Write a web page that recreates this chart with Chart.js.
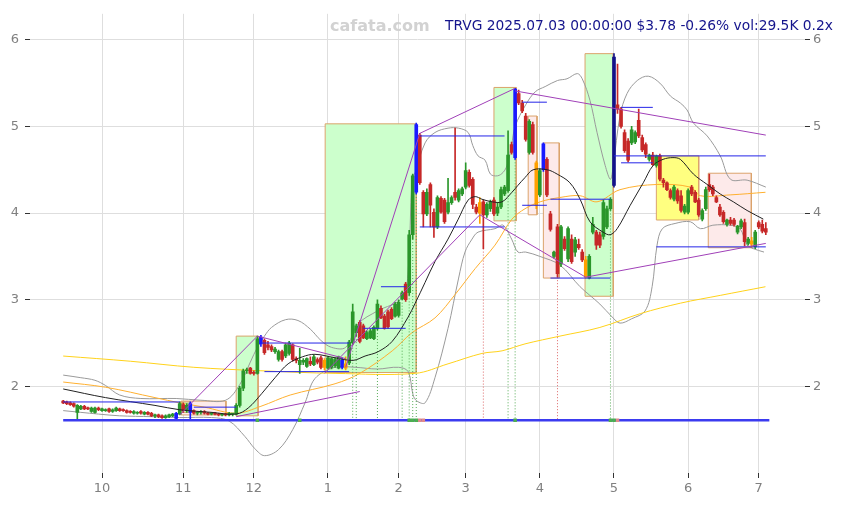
<!DOCTYPE html>
<html lang="en">
<head>
<meta charset="UTF-8">
<title>TRVG daily</title>
<style>
  body { margin: 0; background: #fff; }
  #wrap { position: relative; width: 843px; height: 505px; }
  #mark { position: absolute; left: 330px; top: 16px; font: bold 16px 'DejaVu Sans', sans-serif; color: #d2d2d2; }
  #title { position: absolute; left: 445px; top: 17px; font: 13.8px 'DejaVu Sans', sans-serif; color: #14148c; white-space: nowrap; }
</style>
</head>
<body>
<div id="wrap">
  <canvas id="chart" width="843" height="505"></canvas>
  <div id="mark">cafata.com</div>
  <div id="title">TRVG 2025.07.03 00:00:00 $3.78 -0.26% vol:29.5K 0.2x</div>
</div>
<script src="https://cdn.jsdelivr.net/npm/chart.js@4.4.1/dist/chart.umd.min.js"></script>
<script>
// trading-day index 0 = 2024-09-16, 199 = 2025-07-03
var monthIdx    = [11, 34, 54, 75, 95, 114, 135, 156, 177, 197];
var monthLabels = ['10', '11', '12', '1', '2', '3', '4', '5', '6', '7'];
var yTicks      = [2, 3, 4, 5, 6];

var openP = [
  1.83,1.82,1.81,1.80,1.70,1.74,1.77,1.75,1.71,1.70,
  1.75,1.72,1.72,1.74,1.71,1.72,1.74,1.73,1.72,1.71,
  1.69,1.69,1.71,1.68,1.70,1.69,1.66,1.67,1.66,1.64,
  1.65,1.66,1.63,1.68,1.79,1.72,1.70,1.72,1.69,1.70,
  1.71,1.69,1.68,1.69,1.68,1.67,1.68,1.67,1.68,1.68,
  1.78,1.98,2.18,2.21,2.16,2.15,2.49,2.53,2.48,2.46,
  2.40,2.31,2.40,2.35,2.38,2.48,2.32,2.25,2.28,2.23,
  2.29,2.25,2.31,2.33,2.22,2.21,2.22,2.24,2.21,2.22,
  2.21,2.27,2.50,2.62,2.74,2.70,2.55,2.56,2.55,2.67,
  2.90,2.81,2.86,2.89,2.81,2.82,3.01,3.18,3.08,3.75,
  4.24,4.90,4.24,3.99,4.33,4.01,3.84,4.17,4.15,4.01,
  4.12,4.24,4.15,4.22,4.30,4.47,4.39,4.07,4.00,4.13,
  3.98,4.05,4.15,4.00,4.07,4.22,4.26,4.79,4.64,5.38,
  5.27,5.12,4.70,5.02,4.09,4.21,4.50,4.62,3.99,3.50,
  3.84,3.41,3.70,3.47,3.70,3.55,3.64,3.55,3.46,3.25,
  3.78,3.78,3.75,3.73,3.84,4.05,4.32,5.25,5.20,4.93,
  4.83,4.81,4.82,5.07,4.87,4.79,4.62,4.67,4.55,4.66,
  4.38,4.35,4.26,4.16,4.26,4.20,4.01,4.01,4.30,4.24,
  4.15,3.93,4.05,4.33,4.30,4.18,4.07,4.01,3.87,3.92,
  3.92,3.78,3.84,3.89,3.65,3.68,3.61,3.89,3.87,3.82
];
var highP = [
  1.84,1.83,1.82,1.81,1.79,1.78,1.78,1.76,1.76,1.76,
  1.76,1.75,1.74,1.75,1.74,1.76,1.75,1.74,1.73,1.72,
  1.72,1.71,1.72,1.71,1.71,1.70,1.68,1.68,1.67,1.67,
  1.68,1.69,1.70,1.82,1.81,1.80,1.82,1.73,1.71,1.72,
  1.72,1.70,1.70,1.70,1.69,1.69,1.69,1.70,1.69,1.80,
  2.00,2.20,2.21,2.22,2.18,2.58,2.59,2.55,2.52,2.48,
  2.45,2.42,2.42,2.50,2.52,2.49,2.34,2.44,2.32,2.33,
  2.34,2.36,2.33,2.35,2.32,2.34,2.33,2.33,2.35,2.33,
  2.34,2.53,2.95,2.72,2.76,2.72,2.64,2.66,2.70,3.00,
  2.93,2.83,2.88,2.91,2.97,3.00,3.10,3.20,3.80,4.45,
  5.04,4.92,4.26,4.28,4.35,4.05,4.20,4.19,4.17,4.40,
  4.20,4.98,4.28,4.30,4.58,4.50,4.41,4.10,4.18,4.15,
  4.12,4.15,4.18,4.12,4.30,4.32,4.95,4.82,5.44,5.42,
  5.30,5.15,5.08,5.05,4.60,4.51,4.81,4.64,4.02,3.56,
  3.87,3.86,3.73,3.84,3.75,3.72,3.70,3.58,3.50,3.52,
  3.95,3.80,3.78,4.15,4.08,4.18,5.84,5.72,5.22,4.96,
  4.86,5.00,4.95,5.20,4.90,4.81,4.68,4.70,4.67,4.68,
  4.40,4.36,4.28,4.32,4.28,4.26,4.10,4.28,4.32,4.26,
  4.17,4.05,4.30,4.45,4.32,4.20,4.10,4.03,3.93,3.95,
  3.94,3.86,3.93,3.93,3.72,3.72,3.80,3.91,3.92,3.89
];
var lowP = [
  1.80,1.79,1.78,1.76,1.61,1.73,1.73,1.73,1.70,1.69,
  1.72,1.71,1.71,1.70,1.70,1.71,1.71,1.71,1.69,1.69,
  1.68,1.68,1.68,1.67,1.67,1.65,1.64,1.64,1.63,1.63,
  1.64,1.65,1.61,1.67,1.70,1.70,1.61,1.68,1.67,1.68,
  1.68,1.67,1.67,1.67,1.66,1.66,1.66,1.66,1.66,1.67,
  1.76,1.95,2.15,2.14,2.13,2.14,2.46,2.37,2.42,2.40,
  2.38,2.29,2.29,2.33,2.36,2.29,2.27,2.15,2.25,2.22,
  2.24,2.24,2.26,2.20,2.19,2.20,2.20,2.22,2.20,2.20,
  2.19,2.25,2.48,2.58,2.50,2.55,2.54,2.55,2.54,2.65,
  2.78,2.66,2.67,2.77,2.80,2.80,3.00,2.98,3.05,3.70,
  4.22,4.33,3.84,3.97,3.84,3.72,3.82,4.00,3.88,3.99,
  4.10,4.15,4.13,4.20,4.28,4.30,4.05,3.99,3.88,3.59,
  3.95,4.02,3.97,3.97,4.05,4.20,4.24,4.68,4.62,5.25,
  5.16,4.83,4.68,4.68,4.05,4.19,4.48,4.19,3.79,3.48,
  3.26,3.38,3.57,3.44,3.42,3.50,3.58,3.44,3.25,3.24,
  3.76,3.58,3.60,3.70,3.82,4.03,4.30,5.15,4.98,4.70,
  4.59,4.79,4.80,4.87,4.71,4.64,4.60,4.55,4.53,4.37,
  4.30,4.26,4.16,4.14,4.11,4.01,3.99,3.99,4.20,4.12,
  3.96,3.91,4.03,4.25,4.20,4.12,3.96,3.88,3.85,3.86,
  3.85,3.76,3.82,3.62,3.63,3.60,3.59,3.82,3.77,3.75
];
var closeP = [
  1.81,1.80,1.79,1.77,1.78,1.77,1.74,1.74,1.75,1.75,
  1.73,1.74,1.73,1.71,1.73,1.75,1.72,1.72,1.70,1.70,
  1.71,1.70,1.69,1.70,1.68,1.66,1.67,1.65,1.64,1.66,
  1.67,1.68,1.69,1.80,1.72,1.78,1.80,1.69,1.70,1.71,
  1.69,1.68,1.69,1.68,1.67,1.68,1.67,1.69,1.68,1.78,
  1.98,2.18,2.19,2.15,2.15,2.55,2.57,2.39,2.45,2.42,
  2.43,2.40,2.31,2.48,2.50,2.31,2.30,2.30,2.30,2.32,
  2.26,2.34,2.28,2.22,2.30,2.33,2.32,2.31,2.34,2.30,
  2.26,2.51,2.86,2.70,2.52,2.56,2.62,2.64,2.68,2.95,
  2.79,2.67,2.69,2.78,2.95,2.97,3.08,3.00,3.75,4.43,
  5.02,4.35,3.99,4.24,4.09,3.84,4.18,4.01,3.90,4.12,
  4.18,4.18,4.26,4.28,4.49,4.32,4.10,4.01,4.12,3.98,
  4.10,4.13,3.99,4.07,4.27,4.30,4.67,4.70,5.43,5.27,
  5.18,4.85,5.06,4.70,4.58,4.49,4.80,4.21,3.81,3.55,
  3.30,3.84,3.59,3.82,3.44,3.69,3.60,3.46,3.26,3.50,
  3.87,3.63,3.63,4.12,4.05,4.16,5.80,5.20,5.00,4.72,
  4.61,4.96,4.93,4.89,4.73,4.68,4.67,4.56,4.66,4.39,
  4.35,4.27,4.18,4.30,4.14,4.03,4.08,4.26,4.22,4.13,
  3.98,4.03,4.27,4.27,4.22,4.13,3.98,3.90,3.92,3.88,
  3.87,3.85,3.91,3.67,3.70,3.64,3.78,3.84,3.79,3.78
];

// candles flagged by the screener
var blueIdx   = [32, 36, 56, 79, 100, 128, 136];
var navyIdx   = [156];
var orangeIdx = [74, 80, 118, 134, 148, 195];

// indicator curves: [index, price]
var bbUpper = [[0,2.13],[5,2.10],[9,2.07],[12,2.01],[16,1.90],[22,1.86],[32,1.86],[39,1.84],[46,1.84],[50,2.02],[53,2.28],[55,2.45],[57,2.58],[59,2.68],[63,2.77],[66.5,2.76],[70,2.66],[73,2.53],[76,2.45],[80,2.45],[83.5,2.72],[89,2.87],[96,3.02],[97.7,3.33],[98.8,4.39],[99.7,4.47],[102.5,4.81],[105.3,4.93],[109,4.98],[112,4.98],[114.7,4.93],[116,4.78],[117.5,4.66],[119.5,4.61],[121,4.45],[123,4.43],[124.6,4.47],[125.7,4.55],[127,4.78],[128,5.0],[131,5.25],[133.7,5.40],[136.5,5.46],[140,5.53],[142.7,5.55],[145.6,5.61],[147,5.55],[149.2,5.30],[151.2,4.93],[153.5,4.55],[155,4.39],[155.8,4.55],[157.7,5.12],[159.7,5.38],[162.6,5.53],[165.7,5.58],[169,5.50],[172,5.35],[174.8,5.27],[176.7,5.19],[178.5,5.04],[182.4,4.89],[186.1,4.66],[189,4.39],[193.7,4.38],[199,4.30]];
var bbLower = [[0,1.72],[5,1.70],[10,1.68],[16,1.66],[25,1.65],[33,1.64],[42,1.64],[47,1.60],[51.5,1.42],[54.3,1.28],[57,1.20],[61,1.27],[65,1.50],[68.5,1.81],[71.3,2.09],[77,2.22],[82.7,2.22],[89,2.20],[95,2.22],[97.7,2.17],[99.1,1.90],[100.2,1.83],[102.5,1.81],[105.3,2.10],[109,2.67],[112,3.25],[113.8,3.55],[115.8,3.70],[117.5,3.78],[122.3,3.82],[124.6,3.86],[127,3.70],[128.8,3.55],[131,3.55],[135,3.50],[140.7,3.40],[146.4,3.15],[152,2.95],[155.5,2.80],[157.7,2.73],[161,2.78],[164.8,2.87],[166.8,3.15],[168.2,3.63],[169.7,3.82],[173.3,3.88],[177.6,3.90],[180.5,3.82],[184,3.86],[189,3.86],[191.7,3.82],[193.7,3.63],[195.4,3.59],[198.5,3.55]];
var ma20 = [[0,1.97],[12,1.87],[26,1.78],[33,1.73],[42,1.70],[49,1.68],[52.4,1.75],[56.3,1.92],[60,2.10],[63.7,2.26],[67.7,2.34],[71.3,2.37],[77,2.33],[82.1,2.30],[85.5,2.35],[89.2,2.40],[93.2,2.52],[97.7,2.80],[99.7,2.96],[102.5,3.20],[105.3,3.44],[109,3.70],[111.9,3.93],[114.7,4.15],[116.7,4.19],[118.6,4.16],[121.5,4.13],[124.3,4.13],[127.1,4.24],[128.8,4.32],[130.8,4.41],[133.1,4.50],[137.1,4.50],[139.9,4.45],[143.5,4.35],[146.4,4.16],[149.2,3.90],[152.9,3.78],[154.9,3.75],[156.9,3.82],[160.6,4.09],[164.3,4.35],[167.1,4.55],[169.9,4.62],[172.7,4.64],[174.8,4.62],[178.5,4.45],[182.4,4.33],[186.1,4.22],[189.8,4.13],[193.7,4.03],[198.3,3.93]];
var ma50 = [[0,2.05],[12,1.99],[26,1.87],[33,1.81],[40,1.76],[49,1.69],[56,1.77],[64.3,1.90],[77,2.03],[84,2.15],[93.2,2.41],[98.8,2.62],[105.3,2.79],[111,3.06],[116.7,3.36],[122.3,3.63],[127.1,3.93],[130.8,4.05],[135.1,4.13],[140.7,4.18],[146.4,4.20],[151.2,4.13],[157.7,4.27],[168.2,4.33],[177.6,4.30],[180.5,4.20],[188.9,4.21],[198.9,4.24]];
var ma200 = [[0,2.35],[19,2.29],[37,2.22],[56,2.18],[77,2.15],[99.7,2.15],[109,2.26],[118.6,2.38],[124.3,2.41],[130.8,2.49],[140.7,2.58],[152,2.68],[163.5,2.84],[174.8,2.96],[186.1,3.05],[198.9,3.15]];

// trend lines [i0, p0, i1, p1]
var trendLines = [[33,1.67,55,2.58],[55,2.58,80,2.32],[49,1.65,84,1.94],[80,2.22,101,4.92],[74,2.15,118,3.98],[101,4.92,128,5.44],[128,5.41,199,4.90],[118,3.98,148,3.26],[148,3.26,199,3.65]];
// support / resistance segments [i0, i1, price]
var levels = [[0,33,1.82],[37,49,1.76],[56,81,2.50],[57,81,2.17],[85,97,2.67],[90,97,3.15],[101,125,4.89],[101,125,3.84],[130,137,5.28],[130,137,4.09],[138,155,4.16],[138,155,3.25],[158,167,5.22],[158,167,4.58],[156,199,4.66],[168,199,3.61]];
var floorPrice = 1.61;

// zones [i0, i1, low, high]
var greenZones  = [[33.1,35.9,1.70,1.82],[49,55.2,1.66,2.58],[74.2,100,2.16,5.03],[122,128.3,3.91,5.45],[147.8,155.8,3.04,5.84]];
var pinkZones   = [[33.4,46.1,1.67,1.83],[131.7,134.2,3.98,5.12],[136,140.5,3.25,4.81],[182.7,194.9,3.60,4.46]];
var yellowZones = [[168,180,3.92,4.66]];

var buyDrops  = [82, 83, 89, 96, 98, 99, 100, 126, 128, 155];
var sellDrops = [119, 140];
var buyMarks  = [55, 67, 98, 99, 100, 128, 155, 156];
var sellMarks = [101, 102, 157];

var UP = '#2a962a', DOWN = '#c62828';

function candleColor(i) {
  if (navyIdx.indexOf(i) >= 0) return '#12128a';
  if (blueIdx.indexOf(i) >= 0) return '#1a1aff';
  if (orangeIdx.indexOf(i) >= 0) return '#ffa000';
  return closeP[i] >= openP[i] ? UP : DOWN;
}

function pts(pairs) {
  return pairs.map(function (p) { return { x: p[0], y: p[1] }; });
}

function lineSet(data, color, width, order, extra) {
  return Object.assign({
    type: 'line', data: data, borderColor: color, borderWidth: width,
    pointRadius: 0, fill: false, tension: 0, order: order
  }, extra || {});
}

function zoneFill(z, color) {
  return lineSet([{ x: z[0], y: z[3] }, { x: z[1], y: z[3] }], 'rgba(0,0,0,0)', 0, 100,
    { fill: { value: z[2] }, backgroundColor: color });
}

function zoneEdges(list) {
  var out = [];
  list.forEach(function (z) {
    out.push({ x: z[0], y: z[2] }, { x: z[0], y: z[3] }, { x: z[1], y: z[3] },
             { x: z[1], y: z[2] }, { x: z[0], y: z[2] }, { x: z[0], y: null });
  });
  return out;
}

var idx = openP.map(function (v, i) { return i; });
var colors = idx.map(candleColor);

var trendPts = [];
trendLines.forEach(function (t) { trendPts.push({ x: t[0], y: t[1] }, { x: t[2], y: t[3] }, { x: t[2], y: null }); });
var levelPts = [];
levels.forEach(function (l) { levelPts.push({ x: l[0], y: l[2] }, { x: l[1], y: l[2] }, { x: l[1], y: null }); });

function dropPts(list) {
  var out = [];
  list.forEach(function (i) { out.push({ x: i, y: lowP[i] }, { x: i, y: floorPrice }, { x: i, y: null }); });
  return out;
}

var datasets = [];
greenZones.forEach(function (z) { datasets.push(zoneFill(z, '#ccffcc')); });
pinkZones.forEach(function (z) { datasets.push(zoneFill(z, '#fdeaea')); });
yellowZones.forEach(function (z) { datasets.push(zoneFill(z, '#ffff80')); });
datasets.push(lineSet(zoneEdges(greenZones.concat(pinkZones, yellowZones)), '#dba36b', 1, 95));

datasets.push(lineSet(pts(ma200), '#ffd21a', 1, 70, { tension: 0.35 }));
datasets.push(lineSet(pts(ma50), '#ffb030', 1, 70, { tension: 0.35 }));
datasets.push(lineSet(pts(bbUpper), '#9a9a9a', 1, 70, { tension: 0.35 }));
datasets.push(lineSet(pts(bbLower), '#9a9a9a', 1, 70, { tension: 0.35 }));
datasets.push(lineSet(dropPts(buyDrops), '#55aa55', 1, 65, { borderDash: [1, 2] }));
datasets.push(lineSet(dropPts(sellDrops), '#dd6666', 1, 65, { borderDash: [1, 2] }));

datasets.push({
  type: 'bar', data: idx.map(function (i) { return { x: i, y: [lowP[i], highP[i]] }; }),
  backgroundColor: colors, barThickness: 1, grouped: false, order: 50
});
datasets.push({
  type: 'bar', data: idx.map(function (i) { return { x: i, y: [openP[i], closeP[i]] }; }),
  backgroundColor: colors, barThickness: 3, grouped: false, minBarLength: 1, order: 49
});

datasets.push(lineSet(pts(ma20), '#222222', 1, 40, { tension: 0.35 }));
datasets.push(lineSet(trendPts, '#a040b8', 1, 35));
datasets.push(lineSet(levelPts, '#2424e8', 1, 35));
datasets.push(lineSet([{ x: 0, y: floorPrice }, { x: 200, y: floorPrice }], '#3b3bf0', 2.5, 30));
datasets.push(lineSet(buyMarks.map(function (i) { return { x: i, y: floorPrice }; }), 'rgba(0,0,0,0)', 0, 20,
  { showLine: false, pointRadius: 2.5, pointStyle: 'rect', pointBackgroundColor: '#4caf50', pointBorderWidth: 0 }));
datasets.push(lineSet(sellMarks.map(function (i) { return { x: i, y: floorPrice }; }), 'rgba(0,0,0,0)', 0, 20,
  { showLine: false, pointRadius: 2.5, pointStyle: 'rect', pointBackgroundColor: '#e08a8a', pointBorderWidth: 0 }));

Chart.defaults.font.family = "'DejaVu Sans', sans-serif";

var axisTicks = { color: '#808080', font: { size: 13 } };

new Chart(document.getElementById('chart'), {
  type: 'bar',
  data: { datasets: datasets },
  options: {
    responsive: false,
    animation: false,
    devicePixelRatio: 1,
    layout: { padding: { top: 10 } },
    plugins: { legend: { display: false }, tooltip: { enabled: false } },
    scales: {
      x: {
        type: 'linear', min: -9.4, max: 210.1, offset: false,
        afterBuildTicks: function (s) { s.ticks = monthIdx.map(function (v) { return { value: v }; }); },
        afterFit: function (s) { s.height = 32; },
        ticks: Object.assign({ autoSkip: false, maxRotation: 0, padding: 3,
          callback: function (v, i) { return monthLabels[i]; } }, axisTicks),
        grid: { color: '#dedede', offset: false, tickColor: '#333', tickLength: 5 },
        border: { display: false }
      },
      y: {
        type: 'linear', position: 'left', min: 1, max: 6.3, beginAtZero: false,
        afterBuildTicks: function (s) { s.ticks = yTicks.map(function (v) { return { value: v }; }); },
        afterFit: function (s) { s.width = 30; },
        ticks: Object.assign({ padding: 6 }, axisTicks),
        grid: { color: '#dedede', tickColor: '#333', tickLength: 5 },
        border: { display: false }
      },
      y2: {
        type: 'linear', position: 'right', min: 1, max: 6.3, beginAtZero: false,
        afterBuildTicks: function (s) { s.ticks = yTicks.map(function (v) { return { value: v }; }); },
        afterFit: function (s) { s.width = 38; },
        ticks: Object.assign({ padding: 3 }, axisTicks),
        grid: { drawOnChartArea: false, tickColor: '#333', tickLength: 5 },
        border: { display: false }
      }
    }
  }
});
</script>
</body>
</html>
